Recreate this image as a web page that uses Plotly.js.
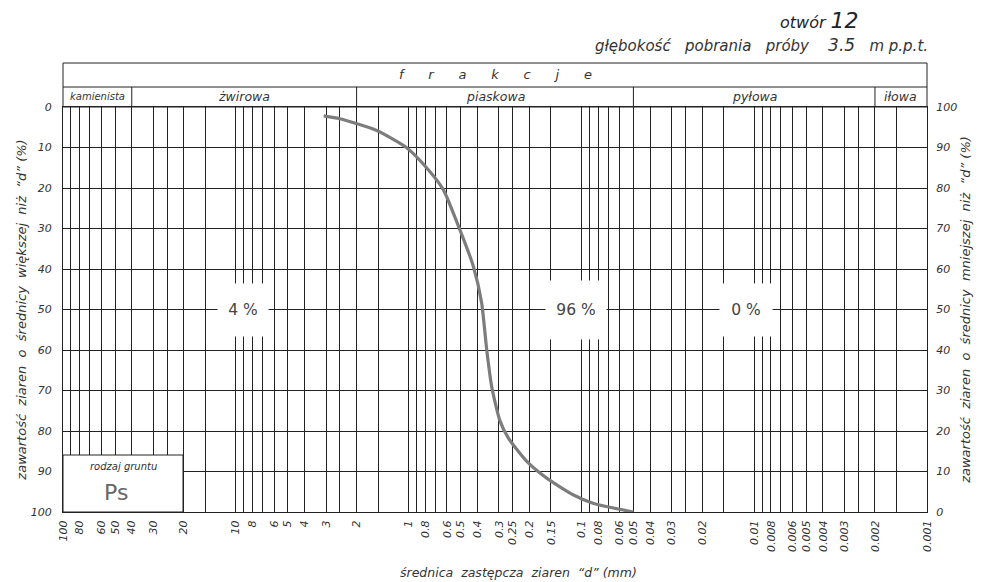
<!DOCTYPE html>
<html>
<head>
<meta charset="utf-8">
<script src="https://cdn.plot.ly/plotly-3.0.1.min.js"></script>
<style>html,body{margin:0;padding:0;background:#fff;}#chart{width:984px;height:582px;}</style>
</head>
<body>
<div id="chart"></div>
<script>
// grain size distribution curve: diameter (mm) vs percent passing (smaller than d)
var diameter = [3.1, 2.5, 1.53, 1.03, 0.787, 0.63, 0.527, 0.423, 0.378, 0.353, 0.33, 0.296, 0.265, 0.207, 0.158, 0.111, 0.085, 0.05];
var passing  = [97.8, 97.1, 94.2, 90, 85, 79.6, 71.7, 60.8, 51.7, 40, 30.8, 22.5, 18.3, 12.5, 8.3, 4.2, 2.1, 0];

// gridline diameters and their labels
var gridValues = [100, 90, 80, 70, 60, 50, 40, 30, 25, 20, 15, 10, 9, 8, 7, 6, 5, 4, 3, 2.5, 2, 1.5, 1, 0.9, 0.8, 0.7, 0.6, 0.5, 0.4, 0.3, 0.25, 0.2, 0.15, 0.1, 0.09, 0.08, 0.07, 0.06, 0.05, 0.04, 0.03, 0.025, 0.02, 0.015, 0.01, 0.009, 0.008, 0.007, 0.006, 0.005, 0.004, 0.003, 0.0025, 0.002, 0.0015, 0.001];
var gridLabels = ['100', '', '80', '', '60', '50', '40', '30', '', '20', '', '10', '', '8', '', '6', '5', '4', '3', '', '2', '', '1', '', '0.8', '', '0.6', '0.5', '0.4', '0.3', '0.25', '0.2', '0.15', '0.1', '', '0.08', '', '0.06', '0.05', '0.04', '0.03', '', '0.02', '', '0.01', '', '0.008', '', '0.006', '0.005', '0.004', '0.003', '', '0.002', '', '0.001'];

// fractions (boundaries in mm) and shares
var fractionNames = ['kamienista', 'żwirowa', 'piaskowa', 'pyłowa', 'iłowa'];
var fractionBounds = [100, 40, 2, 0.05, 0.002, 0.001];
var shareLabels = ['4 %', '96 %', '0 %'];
var yTicks = [0, 10, 20, 30, 40, 50, 60, 70, 80, 90, 100];

var FONT = 'DejaVu Sans';
var INK = '#222';
var TXT = '#333';
var PW = 864, PH = 405, PL = 63, PT = 107;
function px(x) { return (x - PL) / PW; }
function py(y) { return (PT + PH - y) / PH; }

var trace = {
  x: diameter, y: passing, yaxis: 'y2', type: 'scatter', mode: 'lines',
  line: {color: '#7d7d7d', width: 3.2, shape: 'spline', smoothing: 0.6},
  hoverinfo: 'skip', showlegend: false
};
var dummy = {x: [100], y: [0], type: 'scatter', mode: 'markers', marker: {opacity: 0}, showlegend: false, hoverinfo: 'skip'};

var rowTop = py(63), rowMid = py(87);
var shapes = [
  {type: 'rect', xref: 'paper', yref: 'paper', x0: 0, x1: 1, y0: 1, y1: rowTop, line: {color: INK, width: 1}, layer: 'above'},
  {type: 'line', xref: 'paper', yref: 'paper', x0: 0, x1: 1, y0: rowMid, y1: rowMid, line: {color: INK, width: 1}, layer: 'above'},
  {type: 'rect', xref: 'paper', yref: 'paper', x0: 0, x1: px(183), y0: 0, y1: py(455), fillcolor: '#fff', line: {color: INK, width: 1}, layer: 'above'}
];
for (var i = 1; i < fractionBounds.length - 1; i++) {
  shapes.push({type: 'line', xref: 'x', yref: 'paper', x0: fractionBounds[i], x1: fractionBounds[i], y0: 1, y1: rowMid, line: {color: INK, width: 1}, layer: 'above'});
}

var annotations = [];
function ann(o) {
  o.showarrow = false;
  if (!o.xanchor) o.xanchor = 'center';
  if (!o.yanchor) o.yanchor = 'middle';
  annotations.push(o);
}
for (var j = 0; j < fractionNames.length; j++) {
  var mid = (Math.log10(fractionBounds[j]) + Math.log10(fractionBounds[j + 1])) / 2;
  ann({x: mid, xref: 'x', y: (1 + rowMid) / 2, yref: 'paper', text: fractionNames[j],
    font: {family: FONT, size: j === 0 ? 10 : 12.5, color: TXT, style: 'italic'}});
}
var sp = '&nbsp;&nbsp;&nbsp;&nbsp;&nbsp;&nbsp;';
ann({x: 0.5, xref: 'paper', y: (rowMid + rowTop) / 2, yref: 'paper', text: ['f', 'r', 'a', 'k', 'c', 'j', 'e'].join(sp),
  font: {family: FONT, size: 13, color: TXT, style: 'italic'}});

var sharePos = [[243, 48, 50], [576, 58, 56], [746, 50, 50]];
for (var k = 0; k < shareLabels.length; k++) {
  ann({x: px(sharePos[k][0]), xref: 'paper', y: 0.5, yref: 'paper', text: shareLabels[k],
    bgcolor: '#fff', width: sharePos[k][1], height: sharePos[k][2],
    font: {family: FONT, size: 15.5, color: '#444'}});
}

ann({x: px(123), xref: 'paper', y: py(466), yref: 'paper', text: 'rodzaj gruntu',
  font: {family: FONT, size: 10, color: TXT, style: 'italic'}});
ann({x: px(116), xref: 'paper', y: py(492), yref: 'paper', text: 'Ps',
  font: {family: FONT, size: 22, color: '#666'}});

// title block
var gap = '&nbsp;&nbsp;&nbsp;';
ann({x: px(861), xref: 'paper', xanchor: 'right', y: py(20), yref: 'paper',
  text: 'otwór <span style="font-size:22px">12</span>', font: {family: FONT, size: 16, color: '#222', style: 'italic'}});
ann({x: px(930), xref: 'paper', xanchor: 'right', y: py(45), yref: 'paper',
  text: 'głębokość' + gap + 'pobrania' + gap + 'próby' + gap + '&nbsp;<span style="font-size:17px">3.5</span>' + gap + 'm p.p.t.',
  font: {family: FONT, size: 15, color: '#333', style: 'italic'}});
// x axis title
ann({x: px(518), xref: 'paper', y: py(572), yref: 'paper',
  text: 'średnica  zastępcza  ziaren  “d” (mm)', font: {family: FONT, size: 12.5, color: TXT, style: 'italic'}});

var tickFont = {family: FONT, size: 11, color: TXT, style: 'italic'};

var layout = {
  width: 984, height: 582,
  margin: {l: PL, r: 984 - PL - PW, t: PT, b: 582 - PT - PH},
  paper_bgcolor: '#fff', plot_bgcolor: '#fff',
  showlegend: false,
  xaxis: {
    type: 'log', range: [2, -3], tickmode: 'array', tickvals: gridValues, ticktext: gridLabels,
    tickangle: -90, tickfont: tickFont, showgrid: true, gridcolor: INK, gridwidth: 1,
    showline: true, linecolor: INK, linewidth: 1, mirror: true, zeroline: false,
    ticks: 'outside', ticklen: 3, tickcolor: 'rgba(0,0,0,0)'
  },
  yaxis: {
    range: [100, 0], tickmode: 'array', tickvals: yTicks, tickfont: tickFont,
    showgrid: true, gridcolor: INK, gridwidth: 1, showline: true, linecolor: INK, linewidth: 1, mirror: true, zeroline: false,
    ticks: 'outside', ticklen: 8, tickcolor: 'rgba(0,0,0,0)',
    title: {text: 'zawartość  ziaren  o  średnicy  większej  niż  “d” (%)', standoff: 1, font: {family: FONT, size: 13, color: TXT, style: 'italic'}}
  },
  yaxis2: {
    range: [0, 100], overlaying: 'y', side: 'right', tickmode: 'array', tickvals: yTicks, tickfont: tickFont,
    showgrid: false, zeroline: false, showline: false,
    ticks: 'outside', ticklen: 6, tickcolor: 'rgba(0,0,0,0)',
    title: {text: 'zawartość  ziaren  o  średnicy  mniejszej  niż  “d” (%)', standoff: 4, font: {family: FONT, size: 13, color: TXT, style: 'italic'}}
  },
  shapes: shapes,
  annotations: annotations
};

Plotly.newPlot('chart', [dummy, trace], layout, {staticPlot: true, displayModeBar: false});
</script>
</body>
</html>
